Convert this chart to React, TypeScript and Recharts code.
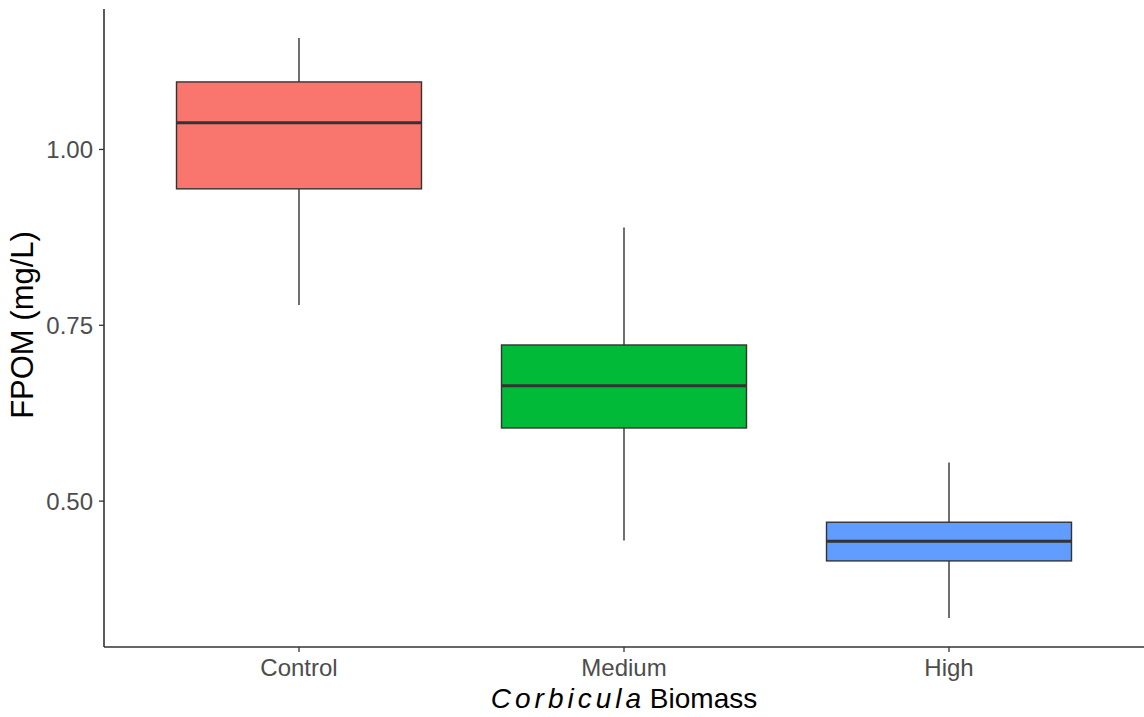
import React from 'react';
import { ComposedChart, Bar, XAxis, YAxis } from 'recharts';

// box statistics (FPOM, mg/L)
const groups = ['Control', 'Medium', 'High'];
const lowerWhisker = [0.779, 0.444, 0.334];
const q1 = [0.944, 0.604, 0.415];
const medians = [1.038, 0.664, 0.443];
const q3 = [1.096, 0.722, 0.47];
const upperWhisker = [1.1585, 0.889, 0.555];
const fills = ['#F8766D', '#00BA38', '#619CFF'];
const yTicks = [0.5, 0.75, 1.0];

const data = groups.map((g, i) => ({
  group: g,
  lo: lowerWhisker[i],
  q1: q1[i],
  med: medians[i],
  q3: q3[i],
  hi: upperWhisker[i],
  fill: fills[i],
}));

const OUTLINE = '#333333';
const FONT = '"Liberation Sans", Arial, sans-serif';

// draws whiskers + box + median, mapping values through the bar's own pixel extent
const BoxShape = (props: any) => {
  const { x, y, width, height, payload } = props;
  const top = Math.min(y, y + height);
  const bottom = Math.max(y, y + height);
  const ppu = (bottom - top) / (payload.hi - payload.lo);
  const py = (v: number) => top + (payload.hi - v) * ppu;
  const cx = x + width / 2;
  return (
    <g>
      <line x1={cx} x2={cx} y1={py(payload.hi)} y2={py(payload.q3)} stroke={OUTLINE} strokeWidth={1.4} />
      <line x1={cx} x2={cx} y1={py(payload.q1)} y2={py(payload.lo)} stroke={OUTLINE} strokeWidth={1.4} />
      <rect
        x={x}
        y={py(payload.q3)}
        width={width}
        height={py(payload.q1) - py(payload.q3)}
        fill={payload.fill}
        stroke={OUTLINE}
        strokeWidth={1.4}
      />
      <line x1={x} x2={x + width} y1={py(payload.med)} y2={py(payload.med)} stroke={OUTLINE} strokeWidth={3} />
    </g>
  );
};

const renderXTitle = () => (
  <text x={624} y={708} textAnchor="middle" fontSize={28} fontFamily={FONT} fill="#000">
    <tspan fontStyle="italic" letterSpacing={4}>Corbicula</tspan>
    <tspan dx={-3}> Biomass</tspan>
  </text>
);

const renderYTitle = () => (
  <text
    x={0}
    y={0}
    transform="translate(33,325) rotate(-90)"
    textAnchor="middle"
    fontSize={31}
    fontFamily={FONT}
    fill="#000"
  >
    FPOM (mg/L)
  </text>
);

export default function App() {
  return (
    <div style={{ position: 'absolute', left: 0, top: 0, background: '#fff' }}>
      <ComposedChart
        width={1144}
        height={717}
        data={data}
        margin={{ top: 9, right: 0, bottom: 0, left: 0 }}
      >
        <XAxis
          dataKey="group"
          type="category"
          padding={{ left: 32.5, right: 32.5 }}
          axisLine={{ stroke: OUTLINE, strokeWidth: 1.6 }}
          tickLine={{ stroke: OUTLINE, strokeWidth: 1.3 }}
          tickSize={5}
          tickMargin={7}
          tick={{ fontSize: 24, fill: '#4D4D4D', fontFamily: FONT }}
          height={70}
          label={renderXTitle}
        />
        <YAxis
          type="number"
          domain={[0.2926, 1.1997]}
          ticks={yTicks}
          allowDataOverflow
          width={104}
          axisLine={{ stroke: OUTLINE, strokeWidth: 1.6 }}
          tickLine={{ stroke: OUTLINE, strokeWidth: 1.3 }}
          tickSize={5}
          tickMargin={6}
          tickFormatter={(v: number) => v.toFixed(2)}
          tick={{ fontSize: 24, fill: '#4D4D4D', fontFamily: FONT }}
          label={renderYTitle}
        />
        <Bar
          dataKey={(d: any) => [d.lo, d.hi]}
          barSize={245}
          shape={BoxShape}
          isAnimationActive={false}
        />
      </ComposedChart>
    </div>
  );
}
